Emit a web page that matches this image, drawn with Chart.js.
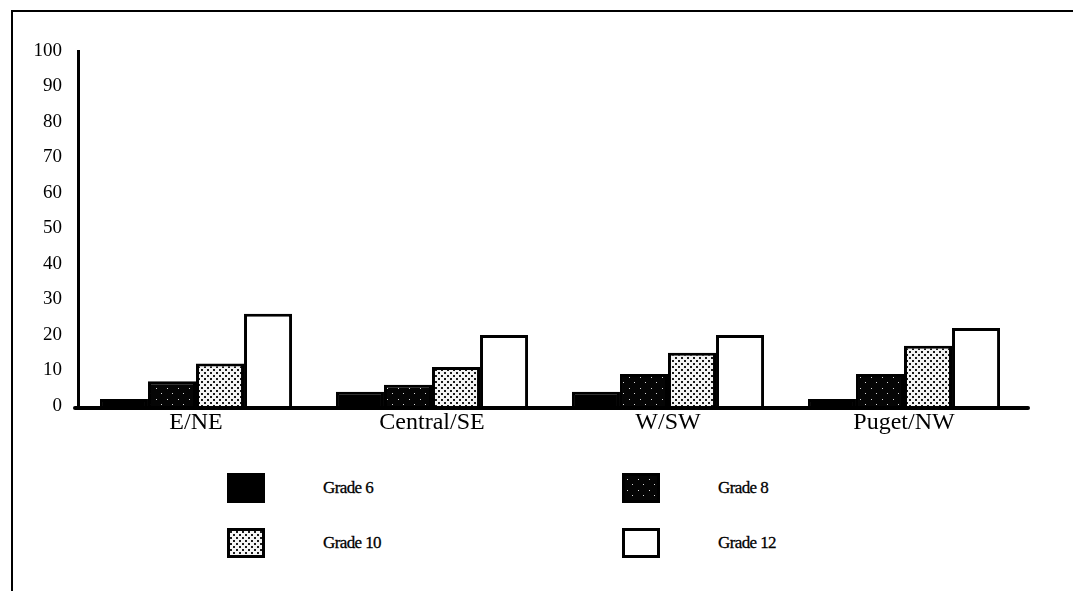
<!DOCTYPE html>
<html>
<head>
<meta charset="utf-8">
<script src="https://cdn.jsdelivr.net/npm/chart.js@4.4.0/dist/chart.umd.min.js"></script>
<style>
    html, body { margin: 0; padding: 0; background: #fff; }
    body { width: 1073px; height: 591px; position: relative; overflow: hidden; font-family: "Liberation Serif", "DejaVu Serif", serif; }
    #frame { position: absolute; left: 11px; top: 10px; right: -5px; bottom: -5px; border-top: 2px solid #000; border-left: 2px solid #000; }
    #wrap { position: absolute; left: 0; top: 0; width: 1073px; height: 450px; }
    .legend-item { position: absolute; height: 30px; display: flex; align-items: center; }
    .swatch { width: 38px; height: 30px; box-sizing: border-box; border: 3px solid #000; }
    .legend-item span { position: absolute; left: 96px; white-space: nowrap; font-size: 17px; color: #000; letter-spacing: -0.6px; -webkit-text-stroke: 0.3px #000; }
</style>
</head>
<body>
<div id="frame"></div>
<div id="wrap"><canvas id="chart" width="1073" height="450"></canvas></div>
<div id="legend"></div>
<script>
// --- Data ---
const regions = ['E/NE', 'Central/SE', 'W/SW', 'Puget/NW'];
const gradeLabels = ['Grade 6', 'Grade 8', 'Grade 10', 'Grade 12'];
const grade6 = [2, 4, 4, 2];
const grade8 = [7, 6, 9, 9];
const grade10 = [12, 11, 15, 17];
const grade12 = [26, 20, 20, 22];
const yTicks = [0, 10, 20, 30, 40, 50, 60, 70, 80, 90, 100];

document.addEventListener('DOMContentLoaded', () => {
    // --- Fill patterns (scanned halftone look) ---
    function makeTile(size, bg, dot, points) {
        const c = document.createElement('canvas');
        c.width = size; c.height = size;
        const g = c.getContext('2d');
        g.fillStyle = bg;
        g.fillRect(0, 0, size, size);
        g.fillStyle = dot;
        points.forEach(p => g.fillRect(p[0], p[1], p[2], p[2]));
        return c;
    }
    const ctx = document.getElementById('chart').getContext('2d');
    const darkTile = makeTile(11, '#050505', '#d8d8d8', [[2, 3, 1], [7, 8, 1]]);
    const dotTile = makeTile(6, '#f4f4f4', '#1a1a1a', [[0, 0, 2], [3, 3, 2]]);
    const fills = [
        '#000000',
        ctx.createPattern(darkTile, 'repeat'),
        ctx.createPattern(dotTile, 'repeat'),
        '#ffffff'
    ];
    const swatchBg = [
        '#000000',
        'url(' + darkTile.toDataURL() + ')',
        'url(' + dotTile.toDataURL() + ')',
        '#ffffff'
    ];
    const series = [grade6, grade8, grade10, grade12];

    // --- Thick baseline like the original ---
    const baseline = {
        id: 'baseline',
        afterDatasetsDraw(chart) {
            const y = chart.scales.y.getPixelForValue(0);
            const c = chart.ctx;
            c.save();
            c.strokeStyle = '#000';
            c.lineWidth = 4;
            c.lineCap = 'round';
            c.beginPath();
            c.moveTo(chart.chartArea.left - 3, y + 2);
            c.lineTo(chart.chartArea.right + 6, y + 2);
            c.stroke();
            c.restore();
        }
    };

    // --- Chart ---
    new Chart(ctx, {
        type: 'bar',
        data: {
            labels: regions,
            datasets: series.map((vals, i) => ({
                label: gradeLabels[i],
                data: vals,
                backgroundColor: fills[i],
                borderColor: '#000',
                borderWidth: 3,
                borderSkipped: 'bottom'
            }))
        },
        options: {
            responsive: false,
            animation: false,
            events: [],
            layout: { padding: { top: 51, right: 51, left: 0, bottom: 0 } },
            datasets: { bar: { categoryPercentage: 0.814, barPercentage: 1 } },
            plugins: { legend: { display: false }, tooltip: { enabled: false } },
            scales: {
                x: {
                    grid: { display: false },
                    border: { display: false },
                    ticks: { color: '#000', font: { family: 'Liberation Serif', size: 24 }, padding: -6 },
                    afterFit: s => { s.height = 44; }
                },
                y: {
                    min: 0,
                    max: 100,
                    afterBuildTicks: s => { s.ticks = yTicks.map(v => ({ value: v })); },
                    grid: { display: false },
                    border: { display: true, color: '#000', width: 3 },
                    ticks: { color: '#000', font: { family: 'Liberation Serif', size: 19 }, padding: 8 },
                    afterFit: s => { s.width = 78; }
                }
            }
        },
        plugins: [baseline]
    });

    // --- Legend (2 x 2 grid) ---
    const legend = document.getElementById('legend');
    const spots = [[227, 473], [622, 473], [227, 528], [622, 528]];
    gradeLabels.forEach((name, i) => {
        const item = document.createElement('div');
        item.className = 'legend-item';
        item.style.left = spots[i][0] + 'px';
        item.style.top = spots[i][1] + 'px';
        const sw = document.createElement('div');
        sw.className = 'swatch';
        sw.style.background = swatchBg[i];
        const txt = document.createElement('span');
        txt.textContent = name;
        item.appendChild(sw);
        item.appendChild(txt);
        legend.appendChild(item);
    });
});
</script>
</body>
</html>
